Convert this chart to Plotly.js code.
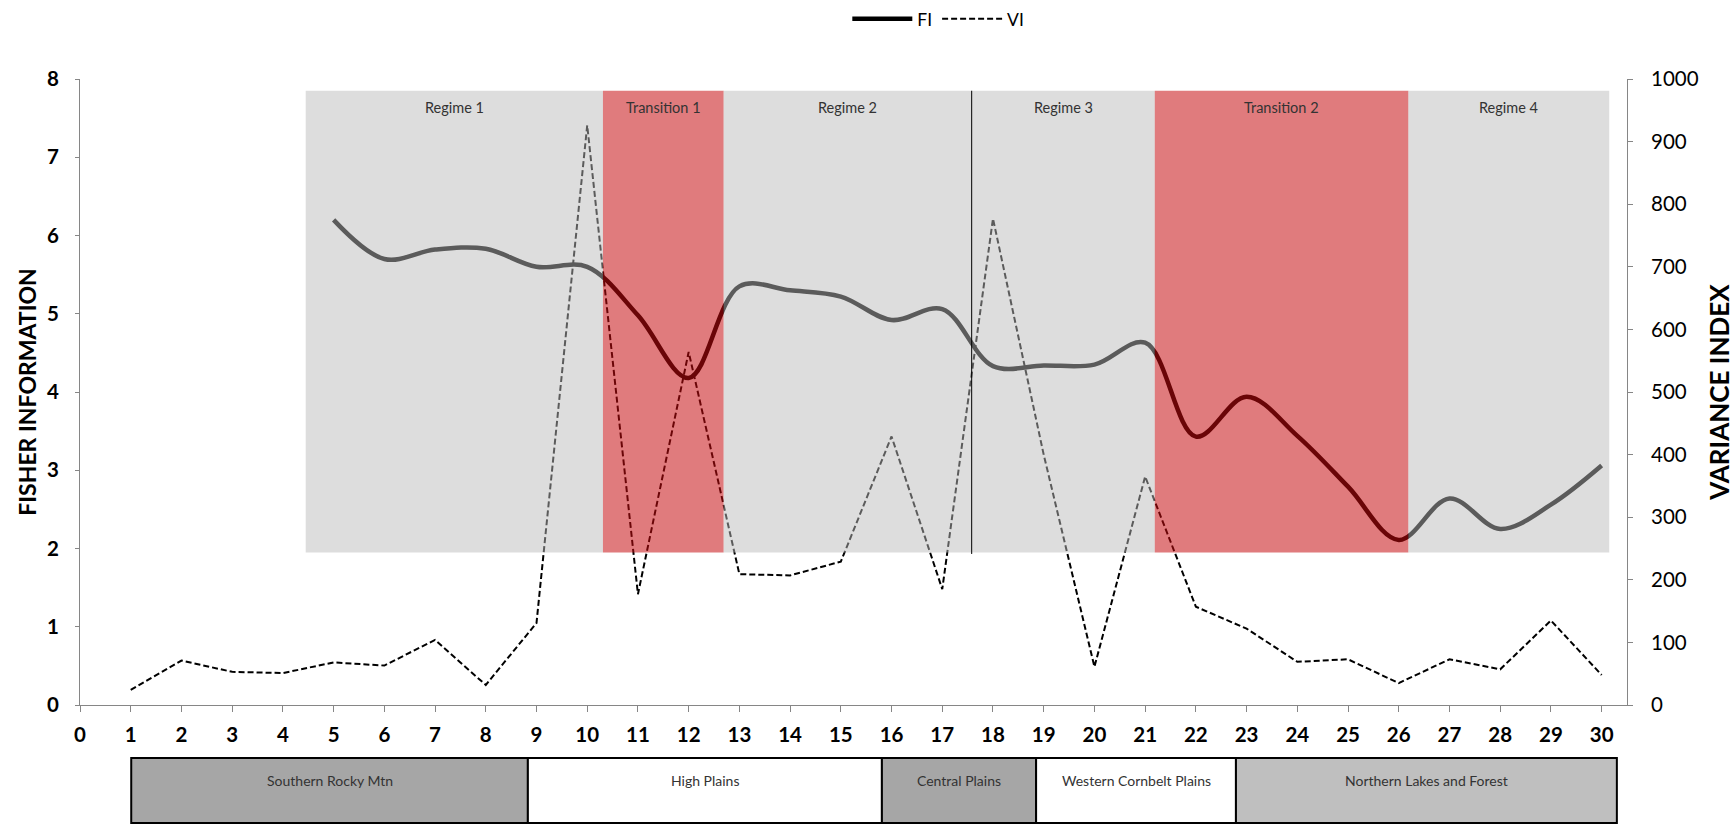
<!DOCTYPE html>
<html>
<head>
<meta charset="utf-8">
<script src="https://cdn.plot.ly/plotly-3.0.1.min.js"></script>
<style>html,body{margin:0;padding:0;background:#fff;}#chart{width:1735px;height:825px;}</style>
</head>
<body>
<div id="chart"></div>
<script>
// ---- data ----
const fiX = [5,6,7,8,9,10,11,12,13,14,15,16,17,18,19,20,21,22,23,24,25,26,27,28,29,30];
const fiValues = [6.2,5.7,5.82,5.83,5.6,5.6,4.98,4.18,5.35,5.3,5.22,4.92,5.06,4.33,4.34,4.35,4.63,3.43,3.94,3.44,2.79,2.11,2.64,2.25,2.56,3.06];
const viX = [1,2,3,4,5,6,7,8,9,10,11,12,13,14,15,16,17,18,19,20,21,22,23,24,25,26,27,28,29,30];
const viValues = [24,71,53,51,68,63,104,32,131,926,177,564,209,207,229,429,185,777,400,61,365,157,122,69,73,35,73,57,135,48];
const xTickVals = [0,1,2,3,4,5,6,7,8,9,10,11,12,13,14,15,16,17,18,19,20,21,22,23,24,25,26,27,28,29,30];

const regimeNames = ["Regime 1","Transition 1","Regime 2","Regime 3","Transition 2","Regime 4"];
const regimeStart = [4.45,10.31,12.69,17.58,21.19,26.19];
const regimeEnd   = [10.31,12.69,17.58,21.19,26.19,30.15];
const regimeKind  = ["regime","transition","regime","regime","transition","regime"];
const regimeBottom = 1.95, regimeTop = 7.85;
const regimeDivider = 17.58;

const ecoNames = ["Southern Rocky Mtn","High Plains","Central Plains","Western Cornbelt Plains","Northern Lakes and Forest"];
const ecoStart = [1.01,8.83,15.81,18.85,22.79];
const ecoEnd   = [8.83,15.81,18.85,22.79,30.3];
const ecoShade = ["dark","none","dark","none","light"];

// ---- styles ----
const FONT = "Lato, 'Open Sans', sans-serif";
const kindFill = {regime:"rgba(185,185,185,0.49)", transition:"rgba(197,9,13,0.537)"};
const shadeFill = {dark:"#a6a6a6", none:"#ffffff", light:"#bfbfbf"};

const traces = [
  {x: fiX, y: fiValues, name: "FI", type: "scatter", mode: "lines",
   line: {color: "#000000", width: 4.5, shape: "spline", smoothing: 1}, yaxis: "y"},
  {x: viX, y: viValues, name: "VI", type: "scatter", mode: "lines",
   line: {color: "#000000", width: 2, dash: "6px,3px"}, yaxis: "y2"}
];

const shapes = [];
const annotations = [];
regimeNames.forEach((n,i)=>{
  shapes.push({type:"rect", xref:"x", yref:"y", x0:regimeStart[i], x1:regimeEnd[i], y0:regimeBottom, y1:regimeTop,
    fillcolor: kindFill[regimeKind[i]], line:{width:0}, layer:"above"});
  annotations.push({xref:"x", yref:"y", x:(regimeStart[i]+regimeEnd[i])/2, y:7.63, text:n, showarrow:false,
    font:{family:FONT, size:14.5, color:"#333333"}});
});
shapes.push({type:"line", xref:"x", yref:"y", x0:regimeDivider, x1:regimeDivider, y0:regimeBottom-0.02, y1:regimeTop,
  line:{color:"#000000", width:1}, layer:"above"});

ecoNames.forEach((n,i)=>{
  shapes.push({type:"rect", xref:"x", yref:"paper", x0:ecoStart[i], x1:ecoEnd[i], y0:-0.1885, y1:-0.0847,
    fillcolor: shadeFill[ecoShade[i]], line:{color:"#000000", width:2}, layer:"above"});
  annotations.push({xref:"x", yref:"paper", x:(ecoStart[i]+ecoEnd[i])/2, y:-0.1366, text:n, showarrow:false,
    font:{family:FONT, size:14, color:"#333333"}});
});

const layout = {
  width: 1735, height: 825,
  margin: {l:80, r:108, t:79, b:120, pad:0, autoexpand:false},
  paper_bgcolor: "#ffffff", plot_bgcolor: "#ffffff",
  font: {family: FONT, color: "#000000"},
  showlegend: true,
  legend: {orientation:"h", x:0.496, xanchor:"left", y:1.096, yanchor:"middle",
    font:{family:FONT, size:17.5, color:"#000000"}, itemwidth:60, bgcolor:"rgba(0,0,0,0)"},
  xaxis: {range:[0,30.5], tickmode:"array", tickvals:xTickVals, ticktext:xTickVals.map(String),
    showgrid:false, zeroline:false, showline:true, linecolor:"#868686", linewidth:1,
    ticks:"outside", ticklen:6, tickcolor:"#868686", ticklabelstandoff:5,
    tickfont:{family:FONT, size:20.5, weight:"bold", color:"#000000"}},
  yaxis: {range:[0,8], dtick:1, showgrid:false, zeroline:false, showline:true, linecolor:"#868686", linewidth:1,
    ticks:"outside", ticklen:4, tickcolor:"#868686", ticklabelstandoff:12,
    tickfont:{family:FONT, size:20.5, weight:"bold", color:"#000000"},
    title:{text:"FISHER INFORMATION", standoff:3, font:{family:FONT, size:23, weight:"bold", color:"#000000"}}},
  yaxis2: {range:[0,1000], dtick:100, overlaying:"y", side:"right", showgrid:false, zeroline:false,
    showline:true, linecolor:"#868686", linewidth:1, ticks:"outside", ticklen:5, tickcolor:"#868686",
    ticklabelstandoff:14,
    tickfont:{family:FONT, size:20.5, color:"#000000"},
    title:{text:"VARIANCE INDEX", standoff:13, font:{family:FONT, size:26, weight:"bold", color:"#000000"}}},
  shapes: shapes,
  annotations: annotations
};

Plotly.newPlot("chart", traces, layout, {displayModeBar:false, staticPlot:true});
</script>
</body>
</html>
